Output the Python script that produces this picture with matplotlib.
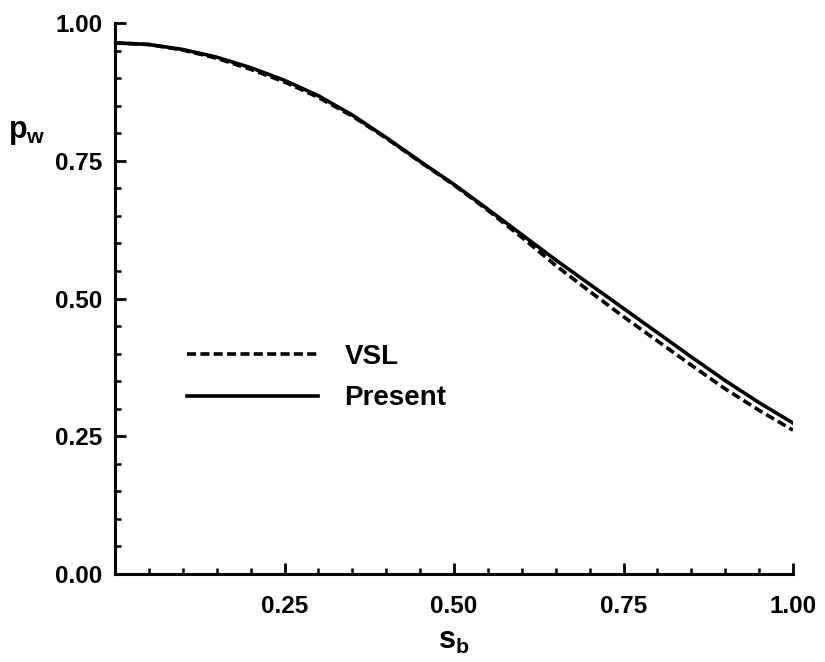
import matplotlib
matplotlib.use("Agg")
import matplotlib.pyplot as plt
from matplotlib.ticker import MultipleLocator

plt.rcParams['font.family'] = ['Liberation Sans', 'DejaVu Sans']
plt.rcParams['font.weight'] = 'bold'
plt.rcParams['mathtext.fontset'] = 'custom'
plt.rcParams['mathtext.rm'] = 'Liberation Sans:bold'
plt.rcParams['mathtext.it'] = 'Liberation Sans:bold'
plt.rcParams['mathtext.bf'] = 'Liberation Sans:bold'

# wall pressure along body surface
s_b = [0.00, 0.05, 0.10, 0.15, 0.20, 0.25, 0.30, 0.35, 0.40, 0.45, 0.50,
       0.55, 0.60, 0.65, 0.70, 0.75, 0.80, 0.85, 0.90, 0.95, 1.00]
p_present = [0.964, 0.961, 0.952, 0.938, 0.919, 0.896, 0.868, 0.833, 0.792, 0.749, 0.707,
             0.662, 0.616, 0.570, 0.526, 0.482, 0.438, 0.394, 0.351, 0.311, 0.274]
p_vsl = [0.964, 0.961, 0.951, 0.936, 0.916, 0.893, 0.865, 0.831, 0.791, 0.748, 0.706,
         0.660, 0.611, 0.560, 0.513, 0.467, 0.423, 0.379, 0.336, 0.297, 0.261]

fig = plt.figure(figsize=(8.25, 6.62), dpi=100)
ax = fig.add_axes([115/825, 1 - 574/662, 678/825, 551/662])

ax.plot(s_b, p_vsl, color='black', lw=2.6, dashes=(2.5, 1.2), label='VSL')
ax.plot(s_b, p_present, color='black', lw=2.6, label='Present')

ax.set_xlim(0, 1.0)
ax.set_ylim(0, 1.0)
ax.spines['top'].set_visible(False)
ax.spines['right'].set_visible(False)
for sp in ['left', 'bottom']:
    ax.spines[sp].set_linewidth(2.2)

ax.xaxis.set_major_locator(MultipleLocator(0.25))
ax.xaxis.set_minor_locator(MultipleLocator(0.05))
ax.yaxis.set_major_locator(MultipleLocator(0.25))
ax.yaxis.set_minor_locator(MultipleLocator(0.05))
ax.set_xticks([0.25, 0.5, 0.75, 1.0])
ax.set_xticklabels(['0.25', '0.50', '0.75', '1.00'])
ax.set_yticklabels(['%.2f' % v for v in ax.get_yticks()])

ax.tick_params(which='major', direction='in', length=8, width=2, labelsize=17.5, pad=9)
ax.tick_params(which='minor', direction='in', length=4, width=1.8)
ax.tick_params(axis='x', which='major', pad=15)

ax.set_xlabel(r'$\mathbf{s_b}$', fontsize=22)
ax.xaxis.set_label_coords(0.5, -0.095)
ax.set_ylabel(r'$\mathbf{p_w}$', fontsize=22, rotation=0)
ax.yaxis.set_label_coords(-0.13, 0.775)

leg = ax.legend(loc='upper left', bbox_to_anchor=(0.07, 0.463), frameon=False,
                fontsize=20, handlelength=4.7, handletextpad=0.95, labelspacing=0.56)

fig.savefig('out.png', dpi=100)
